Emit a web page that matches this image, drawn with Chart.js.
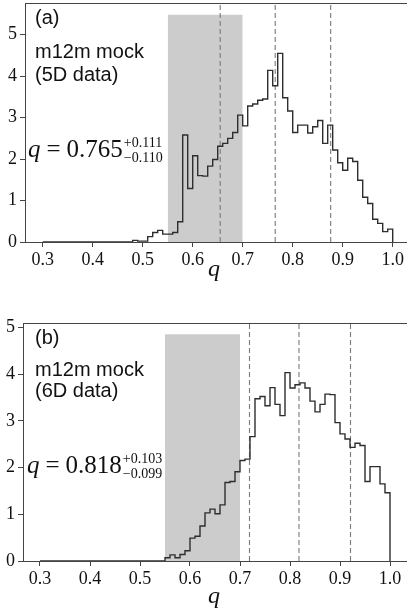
<!DOCTYPE html>
<html><head><meta charset="utf-8">
<script src="https://cdn.jsdelivr.net/npm/chart.js@4.4.1/dist/chart.umd.min.js"></script>
<style>
html,body{margin:0;padding:0;background:#fff;overflow:hidden;}
#wrap{position:relative;width:407px;height:615px;}
.panel{position:absolute;left:0;width:407px;}
canvas{display:block;}
</style></head><body>
<div id="wrap">
<div class="panel" style="top:0;height:300px"><canvas id="c1" width="407" height="300"></canvas></div>
<div class="panel" style="top:300px;height:315px"><canvas id="c2" width="407" height="315"></canvas></div>
</div>
<script>
// ---- data ----
const binStart = 0.30;
const binWidth = 0.01;
// panel (a): 5D data, bins 0.30 ... 0.99
const countsA = [
  0,0,0,0,0,0,0,0,0,0,            // 0.30-0.39
  0,0,0,0,0,0,0,0,0.04,0.02,      // 0.40-0.49
  0.02,0.13,0.23,0.28,0.19,0.19,0.23,0.49,2.58,1.29, // 0.50-0.59
  2.08,1.60,1.59,1.83,1.99,2.31,2.38,2.50,2.64,3.06, // 0.60-0.69
  2.80,3.28,3.33,3.42,3.45,4.14,3.77,4.55,3.48,3.16, // 0.70-0.79
  2.64,2.82,2.82,2.63,2.78,2.93,2.38,2.82,2.22,1.91, // 0.80-0.89
  1.73,2.02,1.94,1.49,1.08,0.93,0.55,0.45,0.25,0.31  // 0.90-0.99
];
// panel (b): 6D data
const countsB = [
  0,0,0,0,0,0,0,0,0,0,            // 0.30-0.39
  0,0,0,0,0,0,0,0,0,0,            // 0.40-0.49
  0,0,0,0,0,0.07,0.13,0.07,0.14,0.22, // 0.50-0.59
  0.49,0.53,0.75,1.03,1.11,1.01,1.20,1.68,1.70,1.91, // 0.60-0.69
  2.15,2.18,2.66,3.47,3.52,3.32,3.71,3.35,3.11,4.03, // 0.70-0.79
  3.70,3.77,3.81,3.70,3.42,3.19,3.35,3.57,3.56,2.96, // 0.80-0.89
  2.72,2.61,2.43,2.52,2.47,1.70,2.02,2.02,1.65,1.46  // 0.90-0.99
];
const xTickValues = [0.3,0.4,0.5,0.6,0.7,0.8,0.9,1.0];
const xTickLabels = ['0.3','0.4','0.5','0.6','0.7','0.8','0.9','1.0'];
const yTickValues = [0,1,2,3,4,5];
const yTickLabels = ['0','1','2','3','4','5'];
const quantilesA = [0.655, 0.765, 0.876];
const quantilesB = [0.719, 0.818, 0.921];
const shadeRange = [0.55, 0.70];
const shadeTopA = 5.48;
const shadeTopB = 4.85;
const labelA = ['(a)', 'm12m mock', '(5D data)'];
const labelB = ['(b)', 'm12m mock', '(6D data)'];
const formulaA = ['0.765', '+0.111', '\u22120.110'];
const formulaB = ['0.818', '+0.103', '\u22120.099'];
const axisLabel = 'q';

// ---- drawing ----
const SPINE = '#444';
const TEXT = '#111';

function histPoints(counts){
  const pts = counts.map((v,i)=>({x: +(binStart + i*binWidth).toFixed(2), y: v}));
  pts.push({x: +(binStart + counts.length*binWidth).toFixed(2), y: 0});
  return pts;
}

function makeChart(id, g){
  const ctx = document.getElementById(id);
  const datasets = [];
  datasets.push({
    data: histPoints(g.counts), stepped: true, borderColor: '#2e2e2e', borderWidth: 1.4,
    pointRadius: 0, fill: false, order: 0, tension: 0
  });
  g.quantiles.forEach(q => datasets.push({
    data: [{x:q,y:0},{x:q,y:g.ymax}], borderColor: '#7a7a7a', borderWidth: 1.1,
    borderDash: [5,3], pointRadius: 0, fill: false, order: 1
  }));
  datasets.push({
    data: [{x:shadeRange[0],y:g.shadeTop},{x:shadeRange[1],y:g.shadeTop}],
    borderWidth: 0, borderColor: 'rgba(0,0,0,0)', backgroundColor: '#cccccc',
    pointRadius: 0, fill: 'origin', order: 2
  });

  const textPlugin = {
    id: 'txt'+id,
    afterDraw(chart){
      const c = chart.ctx, a = chart.chartArea;
      c.save();
      // top spine
      c.strokeStyle = SPINE; c.lineWidth = 1;
      c.beginPath(); c.moveTo(a.left, a.top+0.5); c.lineTo(a.right, a.top+0.5); c.stroke();
      c.fillStyle = TEXT; c.textBaseline = 'alphabetic'; c.textAlign = 'left';
      c.font = '20px "Liberation Sans"';
      c.fillText(g.labels[0], g.tx, g.ty[0]);
      c.fillText(g.labels[1], g.tx, g.ty[1]);
      c.fillText(g.labels[2], g.tx, g.ty[2]);
      // formula
      let x = g.fx; const y = g.fy;
      c.font = 'italic 25px "Liberation Serif"';
      c.fillText(axisLabel, x, y); x += c.measureText(axisLabel).width + 6;
      c.font = '25px "Liberation Serif"';
      c.fillText('=', x, y); x += c.measureText('=').width + 6;
      c.fillText(g.formula[0], x, y); x += c.measureText(g.formula[0]).width + 1;
      c.font = '14px "Liberation Serif"';
      c.fillText(g.formula[1], x, y - 10);
      c.fillText(g.formula[2], x, y + 5);
      // x axis label
      c.font = 'italic 24px "Liberation Serif"'; c.textAlign = 'center';
      c.fillText(axisLabel, g.qx, g.qy);
      c.restore();
    }
  };

  return new Chart(ctx, {
    type: 'line',
    data: { datasets },
    options: {
      responsive: false, animation: false, devicePixelRatio: 1,
      layout: { padding: { top: g.top, left: 0, right: 0, bottom: 0 } },
      plugins: { legend: {display:false}, tooltip: {enabled:false}, title:{display:false} },
      scales: {
        x: {
          type: 'linear', position: 'bottom', min: g.xmin, max: g.xmax,
          grid: { display: true, drawOnChartArea: false, drawTicks: true, tickLength: 5, color: SPINE, lineWidth: 1 },
          border: { display: true, color: SPINE, width: 1 },
          ticks: { autoSkip: false, maxRotation: 0, padding: 2, color: TEXT,
                   font: { family: '"Liberation Serif"', size: 18 },
                   callback: (v) => { const i = xTickValues.findIndex(t => Math.abs(t - v) < 1e-6); return i >= 0 ? xTickLabels[i] : ''; } },
          afterBuildTicks: s => { s.ticks = xTickValues.map(v => ({value: v})); },
          afterFit: s => { s.height = g.H - g.bottom; s.paddingLeft = 0; s.paddingRight = 0; }
        },
        y: {
          type: 'linear', position: 'left', min: 0, max: g.ymax,
          grid: { display: true, drawOnChartArea: false, drawTicks: true, tickLength: 5, color: SPINE, lineWidth: 1 },
          border: { display: true, color: SPINE, width: 1 },
          ticks: { padding: 3, color: TEXT, font: { family: '"Liberation Serif"', size: 18 },
                   callback: (v) => { const i = yTickValues.indexOf(v); return i >= 0 ? yTickLabels[i] : ''; } },
          afterBuildTicks: s => { s.ticks = yTickValues.map(v => ({value: v})); },
          afterFit: s => { s.width = g.left; s.paddingTop = 0; s.paddingBottom = 0; }
        }
      }
    },
    plugins: [textPlugin]
  });
}

makeChart('c1', {
  counts: countsA, quantiles: quantilesA, shadeTop: shadeTopA, labels: labelA, formula: formulaA,
  H: 300, top: 3, bottom: 242, left: 25, xmin: 0.2646, xmax: 1.0286, ymax: 5.765,
  tx: 35, ty: [24, 58, 81], fx: 28, fy: 157, qx: 214, qy: 276
});
makeChart('c2', {
  counts: countsB, quantiles: quantilesB, shadeTop: shadeTopB, labels: labelB, formula: formulaB,
  H: 315, top: 23, bottom: 261, left: 23, xmin: 0.266, xmax: 1.034, ymax: 5.092,
  tx: 35, ty: [44, 76, 97], fx: 27, fy: 173, qx: 214, qy: 303
});
</script>
</body></html>
